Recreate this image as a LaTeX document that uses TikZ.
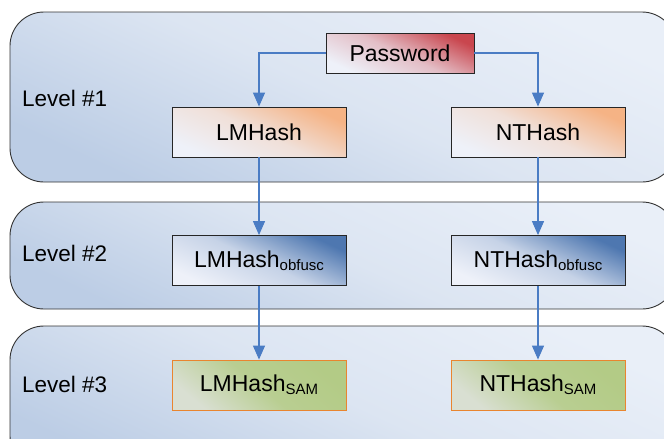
\documentclass[tikz,border=0pt]{standalone}
\usepackage{fontspec}
\setmainfont{Liberation Sans}
\usetikzlibrary{arrows.meta}
\definecolor{arrowblue}{HTML}{4A7CC4}
\definecolor{paneltop}{HTML}{E9EFF8}
\definecolor{panelmid}{HTML}{DCE5F2}
\definecolor{panelbot}{HTML}{BCCDE5}
\definecolor{pwred}{HTML}{C9464E}
\definecolor{lmorange}{HTML}{F5B385}
\definecolor{obblue}{HTML}{4E77B0}
\definecolor{samgreen}{HTML}{B3CB86}
\definecolor{samlight}{HTML}{D9DFD2}
\definecolor{samborder}{HTML}{E9852F}
\definecolor{boxlight}{HTML}{EEF1F9}
\newcommand{\subtxt}[1]{{\fontsize{15}{15}\selectfont\raisebox{-3pt}{#1}}}
\tikzset{
  panel/.style={draw=black!80, line width=0.9pt, rounded corners=34pt,
    top color=paneltop, bottom color=panelbot, middle color=panelmid, shading angle=-25},
  lvl/.style={anchor=west, inner sep=0pt, font=\fontsize{22.5}{24}\selectfont},
  hbox/.style={draw=black!85, line width=0.8pt, minimum width=174pt, minimum height=50pt,
    inner sep=0pt, font=\fontsize{23}{25}\selectfont},
  pwbox/.style={hbox, minimum width=148pt, minimum height=40pt,
    top color=pwred, bottom color=boxlight, middle color=pwred!30!boxlight, shading angle=-25},
  orbox/.style={hbox, top color=lmorange, bottom color=boxlight, middle color=lmorange!28!boxlight, shading angle=-25},
  blbox/.style={hbox, top color=obblue, bottom color=boxlight, middle color=obblue!25!boxlight, shading angle=-25},
  grbox/.style={hbox, draw=samborder, top color=samgreen, bottom color=samlight, middle color=samgreen!85!samlight, shading angle=-40},
  conn/.style={draw=arrowblue, line width=1.1pt, -{Triangle[length=14pt,width=12pt]}}
}
\begin{document}
\begin{tikzpicture}[x=1pt,y=-1pt]
\useasboundingbox (0,0) rectangle (664,439);
\clip (0,0) rectangle (664,439);
% panels
\path[panel] (10,12) rectangle (676,182);
\path[panel] (10,202) rectangle (676,309);
\path[panel] (10,326) rectangle (676,470);
% level labels
\node[lvl] (l1) at (22,98) {Level \#1};
\node[lvl] (l2) at (22,253) {Level \#2};
\node[lvl] (l3) at (22,384) {Level \#3};
% boxes
\node[pwbox] (pw) at (400,53) {Password};
\node[orbox] (lm) at (259,132) {LMHash};
\node[orbox] (nt) at (538,132) {NTHash};
\node[blbox] (lmo) at (259,260.5) {LMHash\subtxt{obfusc}};
\node[blbox] (nto) at (538,260.5) {NTHash\subtxt{obfusc}};
\node[grbox] (lms) at (259,385) {LMHash\subtxt{SAM}};
\node[grbox] (nts) at (538,385) {NTHash\subtxt{SAM}};
% connectors
\draw[conn] (pw.west) -| (lm.north);
\draw[conn] (pw.east) -| (nt.north);
\draw[conn] (lm) -- (lmo);
\draw[conn] (nt) -- (nto);
\draw[conn] (lmo) -- (lms);
\draw[conn] (nto) -- (nts);
\end{tikzpicture}
\end{document}
